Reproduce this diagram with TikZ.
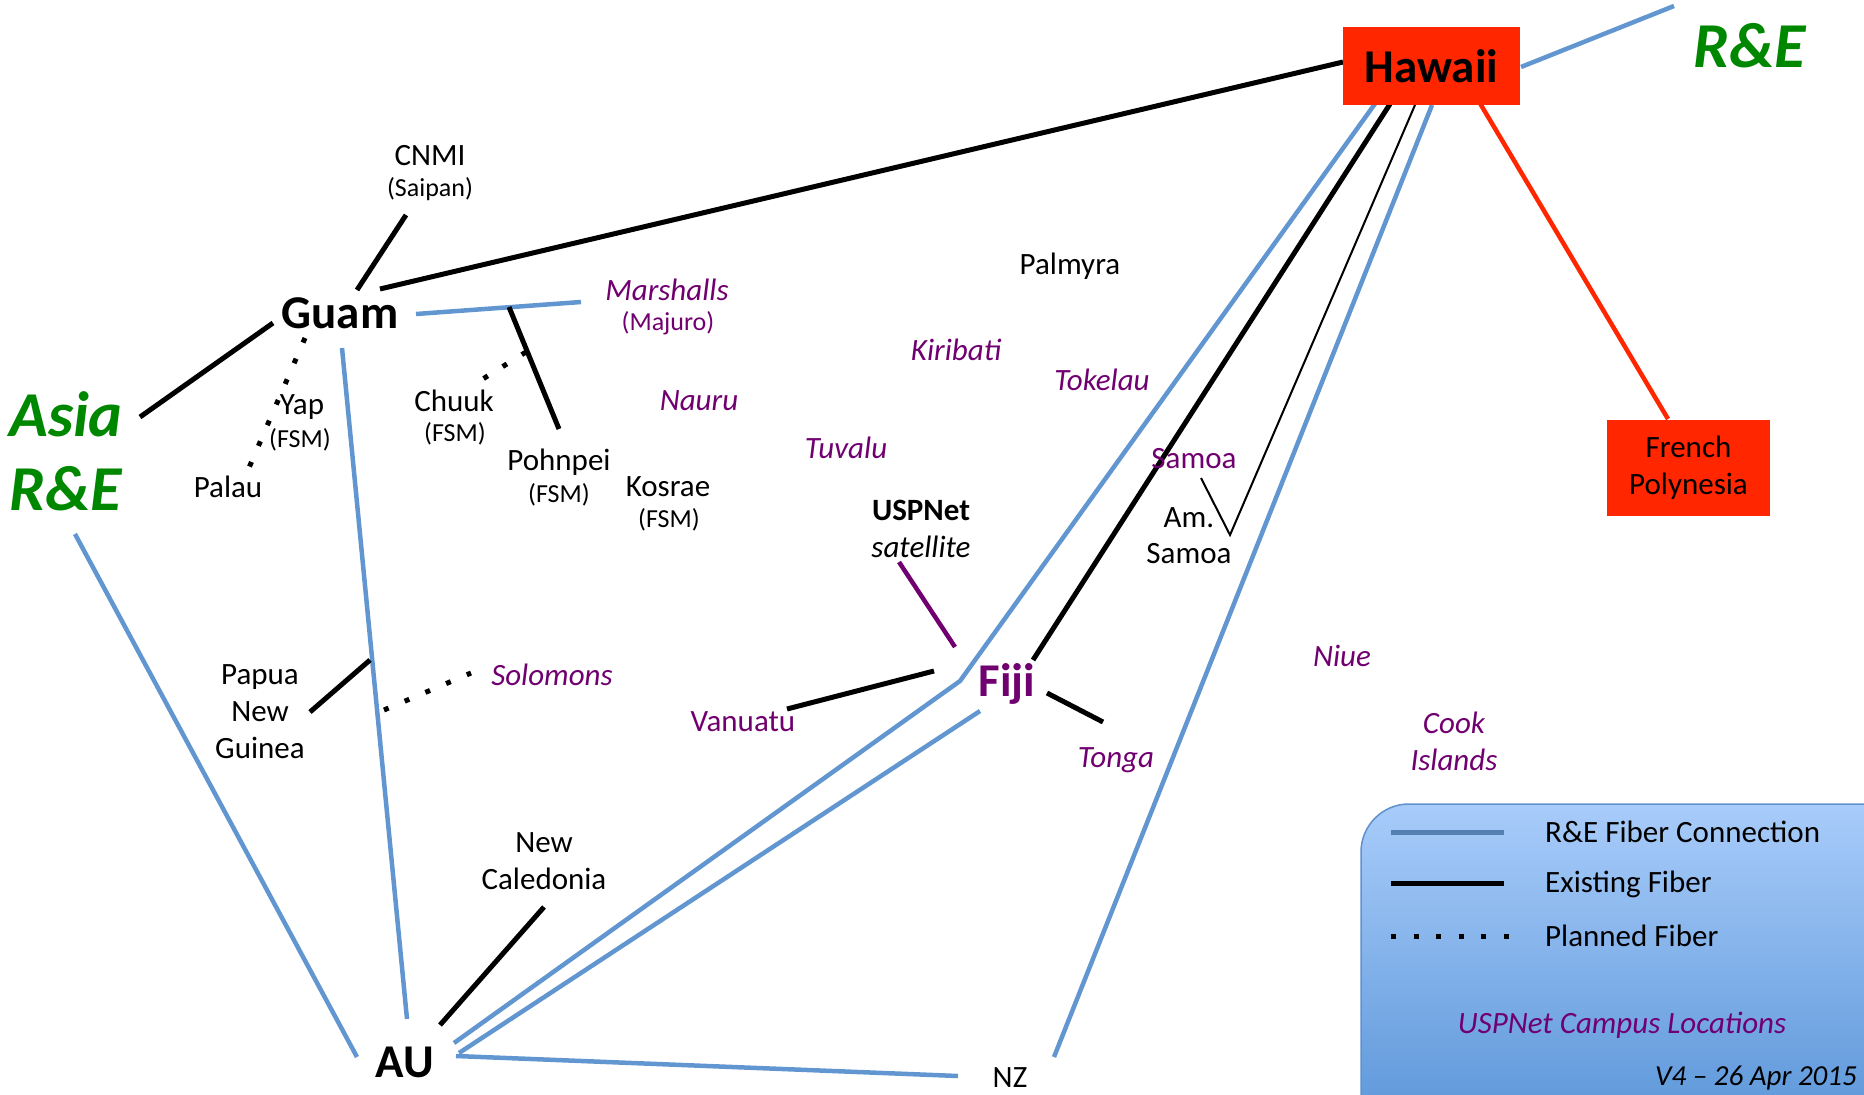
\documentclass[tikz,border=0pt]{standalone}
\usepackage{fontspec}
\setmainfont{Carlito}
\definecolor{rebl}{RGB}{98,150,208}
\definecolor{purp}{RGB}{112,0,112}
\definecolor{regreen}{RGB}{0,135,0}
\definecolor{hawred}{RGB}{255,38,0}
\definecolor{legtop}{RGB}{168,204,250}
\definecolor{legbot}{RGB}{86,146,214}
\definecolor{legborder}{RGB}{95,145,205}
\begin{document}
\begin{tikzpicture}[x=1pt,y=-1pt,
  txt/.style={font=\fontsize{31}{37}\selectfont, align=center, inner sep=0pt},
  subtxt/.style={font=\fontsize{26}{31}\selectfont, inner sep=0pt},
  bigtxt/.style={font=\fontsize{47}{56}\selectfont\bfseries, inner sep=0pt},
  usptxt/.style={txt, text=purp, font=\fontsize{31}{37}\selectfont\itshape},
  uspup/.style={txt, text=purp},
  retxt/.style={font=\fontsize{64}{74}\selectfont\bfseries\itshape, text=regreen, align=center, inner sep=0pt},
  redbox/.style={fill=hawred, inner sep=0pt},
  reline/.style={draw=rebl, line width=4.5pt},
  exline/.style={draw=black, line width=5pt},
  thinline/.style={draw=black, line width=2pt},
  planline/.style={draw=black, line width=5pt, dash pattern=on 5pt off 17.5pt},
  redline/.style={draw=hawred, line width=4.5pt},
  purpline/.style={draw=purp, line width=4.5pt}
]
\useasboundingbox (0,0) rectangle (1864,1095);

% legend box
\path[top color=legtop, bottom color=legbot, draw=legborder, line width=1.5pt, rounded corners=48pt] (1361,804) rectangle (1920,1150);

% coordinates for connector ends
\coordinate (gh1) at (380,289);   \coordinate (gh2) at (1343,62);
\coordinate (cn1) at (406,215);   \coordinate (cn2) at (357,290);
\coordinate (ag1) at (140,417);   \coordinate (ag2) at (273,323);
\coordinate (gm1) at (416,314);   \coordinate (gm2) at (581,302);
\coordinate (po1) at (509,307);   \coordinate (po2) at (559,429);
\coordinate (ch1) at (526,352);   \coordinate (ch2) at (478,382);
\coordinate (yp1) at (305,338);   \coordinate (yp2) at (248,470);
\coordinate (ga1) at (342,348);   \coordinate (ga2) at (407,1019);
\coordinate (aa1) at (75,534);    \coordinate (aa2) at (357,1057);
\coordinate (pn1) at (310,712);   \coordinate (pn2) at (370,660);
\coordinate (so1) at (384,710);   \coordinate (so2) at (471,673);
\coordinate (nc1) at (544,907);   \coordinate (nc2) at (440,1025);
\coordinate (af1) at (454,1043);  \coordinate (afb) at (960,681);  \coordinate (af2) at (1382,94);
\coordinate (al1) at (459,1053);  \coordinate (al2) at (980,711);
\coordinate (hf1) at (1390,104);  \coordinate (hf2) at (1033,660);
\coordinate (hs1) at (1415,105);  \coordinate (hsv) at (1230,535); \coordinate (hs2) at (1201,478);
\coordinate (hn1) at (1432,105);  \coordinate (hn2) at (1054,1057);
\coordinate (an1) at (456,1056);  \coordinate (an2) at (958,1076);
\coordinate (vf1) at (787,709);   \coordinate (vf2) at (934,671);
\coordinate (ft1) at (1047,693);  \coordinate (ft2) at (1103,722);
\coordinate (us1) at (899,562);   \coordinate (us2) at (955,647);
\coordinate (hr1) at (1521,67);   \coordinate (hr2) at (1674,6);
\coordinate (hp1) at (1478,100);  \coordinate (hp2) at (1668,419);

% connectors
\draw[exline] (gh1) -- (gh2);
\draw[exline] (cn1) -- (cn2);
\draw[exline] (ag1) -- (ag2);
\draw[reline] (gm1) -- (gm2);
\draw[exline] (po1) -- (po2);
\draw[planline] (ch1) -- (ch2);
\draw[planline] (yp1) -- (yp2);
\draw[reline] (ga1) -- (ga2);
\draw[reline] (aa1) -- (aa2);
\draw[exline] (pn1) -- (pn2);
\draw[planline] (so1) -- (so2);
\draw[exline] (nc1) -- (nc2);
\draw[reline] (af1) -- (afb) -- (af2);
\draw[reline] (al1) -- (al2);
\draw[exline] (hf1) -- (hf2);
\draw[thinline] (hs1) -- (hsv) -- (hs2);
\draw[reline] (hn1) -- (hn2);
\draw[reline] (an1) -- (an2);
\draw[exline] (vf1) -- (vf2);
\draw[exline] (ft1) -- (ft2);
\draw[purpline] (us1) -- (us2);
\draw[reline] (hr1) -- (hr2);
\draw[redline] (hp1) -- (hp2);

% boxes
\node[redbox, bigtxt, fill=hawred, minimum width=177pt, minimum height=78pt] (haw) at (1431.5,66) {Hawaii};
\node[redbox, txt, fill=hawred, minimum width=163pt, minimum height=96pt] (fp) at (1688.5,468) {French\\Polynesia};

% labels
\node[retxt] (re) at (1750,46) {R\&E};
\node[retxt] (asia) at (66,451) {Asia\\R\&E};
\node[txt] (cnmi) at (430,156) {CNMI};
\node[subtxt] (cnmis) at (430,189) {(Saipan)};
\node[bigtxt] (guam) at (340,313) {Guam};
\node[usptxt] (marsh) at (667,290) {Marshalls};
\node[subtxt, text=purp] (majuro) at (668,323) {(Majuro)};
\node[txt] (palmyra) at (1070,266) {Palmyra};
\node[usptxt] (kiribati) at (956,350) {Kiribati};
\node[usptxt] (tokelau) at (1102,380) {Tokelau};
\node[usptxt] (nauru) at (699,401) {Nauru};
\node[usptxt] (tuvalu) at (846,448) {Tuvalu};
\node[uspup] (samoa) at (1194,459) {Samoa};
\node[txt, font=\fontsize{31}{36}\selectfont] (amsamoa) at (1189,536) {Am.\\Samoa};
\node[txt] (chuuk) at (454,401) {Chuuk};
\node[subtxt] (chuuks) at (455,434) {(FSM)};
\node[txt] (yap) at (302,407) {Yap};
\node[subtxt] (yaps) at (300,440) {(FSM)};
\node[txt] (palau) at (228,487) {Palau};
\node[txt] (pohnpei) at (559,462) {Pohnpei};
\node[subtxt] (pohnpeis) at (559,495) {(FSM)};
\node[txt] (kosrae) at (668,487) {Kosrae};
\node[subtxt] (kosraes) at (669,520) {(FSM)};
\node[txt, font=\fontsize{31}{37}\selectfont\bfseries] (uspnet) at (921,510) {USPNet};
\node[txt, font=\fontsize{31}{37}\selectfont\itshape] (sat) at (921,547) {satellite};
\node[txt] (png) at (260,712) {Papua\\New\\Guinea};
\node[usptxt] (solomons) at (552,675) {Solomons};
\node[uspup] (vanuatu) at (743,722) {Vanuatu};
\node[bigtxt, text=purp] (fiji) at (1007,684) {Fiji};
\node[usptxt] (tonga) at (1116,760) {Tonga};
\node[usptxt] (niue) at (1342,656) {Niue};
\node[usptxt] (cook) at (1454,741) {Cook\\Islands};
\node[txt] (newcal) at (544,861) {New\\Caledonia};
\node[txt] (nz) at (1010,1078) {NZ};
\node[bigtxt] (au) at (405,1062) {AU};

% legend contents
\coordinate (lg1a) at (1391,832); \coordinate (lg1b) at (1504,832);
\coordinate (lg2a) at (1391,883); \coordinate (lg2b) at (1504,883);
\coordinate (lg3a) at (1391,936); \coordinate (lg3b) at (1510,936);
\draw[draw=rebl!85!black, line width=5pt] (lg1a) -- (lg1b);
\draw[exline] (lg2a) -- (lg2b);
\draw[planline] (lg3a) -- (lg3b);
\node[txt, anchor=west] (lt1) at (1545,832) {R\&E Fiber Connection};
\node[txt, anchor=west] (lt2) at (1545,884) {Existing Fiber};
\node[txt, anchor=west] (lt3) at (1545,936) {Planned Fiber};
\node[usptxt] (lt4) at (1622,1025) {USPNet Campus Locations};
\node[txt, font=\fontsize{29}{34}\selectfont\itshape, anchor=east] (ver) at (1857,1078) {V4 – 26 Apr 2015};
\end{tikzpicture}
\end{document}
